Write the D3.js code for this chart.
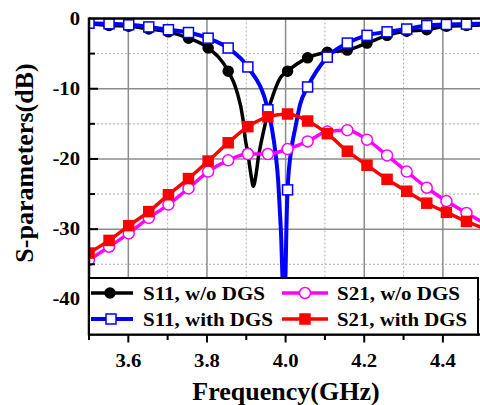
<!DOCTYPE html>
<html><head><meta charset="utf-8">
<script src="https://cdn.jsdelivr.net/npm/d3@7"></script>
<style>
body{margin:0;background:#fff}
svg{display:block}
text{font-family:"Liberation Serif","Times New Roman",serif;font-weight:bold;fill:#000}
</style>
</head><body>
<svg id="chart" width="480" height="405"></svg>
<script>
// Marker frequencies (GHz) shared by all four traces
const freq = [3.500, 3.551, 3.601, 3.652, 3.702, 3.753, 3.803, 3.854, 3.904, 3.955,
              4.005, 4.056, 4.106, 4.157, 4.207, 4.258, 4.308, 4.359, 4.409, 4.460, 4.510];

// S-parameters in dB at the marker frequencies
const s11Wo   = [-0.7, -1.0, -1.1, -1.5, -1.9, -2.8, -4.2, -7.5, -19.2, -13.3,
                 -7.5, -5.6, -4.8, -4.5, -3.5, -2.4, -1.8, -1.6, -1.1, -1.0, -0.9];
const s11With = [-0.67, -0.75, -0.9, -1.2, -1.6, -2.0, -2.8, -4.2, -6.9, -13.0,
                 -24.4, -9.75, -5.5, -3.5, -2.4, -1.9, -1.5, -1.0, -0.85, -0.8, -0.7];
const s21Wo   = [-34.4, -32.5, -30.6, -28.4, -26.5, -24.2, -21.8, -20.2, -19.3, -19.3,
                 -18.6, -17.5, -16.1, -15.9, -17.25, -19.5, -21.8, -24.1, -26.0, -27.7, -29.3];
const s21With = [-33.4, -31.6, -29.5, -27.5, -25.1, -22.8, -20.3, -17.7, -15.4, -14.0,
                 -13.6, -14.6, -16.4, -18.9, -20.9, -22.9, -24.6, -26.3, -27.6, -28.9, -30.0];

// Extra trace samples around the two S11 resonances
const s11WoDipF    = [3.875, 3.892, 3.897, 3.912, 3.918, 3.924, 3.931, 3.945, 3.970, 3.985];
const s11WoDipDb   = [-10.2, -14.5, -17.0, -22.3, -23.9, -22.5, -19.7, -15.8, -10.6, -8.6];
const s11WithDipF  = [3.965, 3.975, 3.981, 3.985, 3.989, 3.992, 3.995, 3.998, 4.000, 4.002, 4.015, 4.025, 4.037];
const s11WithDipDb = [-15.6, -19.5, -23.0, -27.0, -31.5, -37.0, -42.0, -40.0, -36.0, -30.0, -18.5, -15.5, -12.2];

// Axis ticks
const xMajor = [3.6, 3.8, 4.0, 4.2, 4.4];
const xMinor = [3.5, 3.7, 3.9, 4.1, 4.3, 4.5];
const yMajor = [0, -10, -20, -30, -40];
const yMinor = [-5, -15, -25, -35];
const xTickLabels = ["3.6", "3.8", "4.0", "4.2", "4.4"];
const yTickLabels = ["0", "-10", "-20", "-30", "-40"];

const series = [
  {name: "S11, w/o DGS",  values: s11Wo,   dipF: s11WoDipF,   dipDb: s11WoDipDb,   color: "#000000", marker: "circle", filled: true,  width: 3.5},
  {name: "S11, with DGS", values: s11With, dipF: s11WithDipF, dipDb: s11WithDipDb, color: "#0000ff", marker: "square", filled: false, width: 4},
  {name: "S21, w/o DGS",  values: s21Wo,   dipF: [], dipDb: [], color: "#ff00ff", marker: "circle", filled: false, width: 3.5},
  {name: "S21, with DGS", values: s21With, dipF: [], dipDb: [], color: "#ff0000", marker: "square", filled: true,  width: 3.5}
];

const svg = d3.select("#chart");
const L = 89, R = 482.2, T = 18.5, B = 334.5;
const x = d3.scaleLinear().domain([3.5, 4.5]).range([L, R]);
const y = d3.scaleLinear().domain([-45, 0]).range([B, T]);

svg.append("defs").append("clipPath").attr("id", "plotClip")
  .append("rect").attr("x", L).attr("y", T).attr("width", R - L).attr("height", B - T);

// grid
const grid = svg.append("g");
grid.selectAll(".gxm").data(xMinor).join("line")
  .attr("x1", d => x(d)).attr("x2", d => x(d)).attr("y1", T).attr("y2", B)
  .attr("stroke", "#b0b0b0").attr("stroke-width", 1).attr("stroke-dasharray", "2,2");
grid.selectAll(".gym").data(yMinor).join("line")
  .attr("y1", d => y(d)).attr("y2", d => y(d)).attr("x1", L).attr("x2", R)
  .attr("stroke", "#b0b0b0").attr("stroke-width", 1).attr("stroke-dasharray", "2,2");
grid.selectAll(".gxM").data(xMajor).join("line")
  .attr("x1", d => x(d)).attr("x2", d => x(d)).attr("y1", T).attr("y2", B)
  .attr("stroke", "#8c8c8c").attr("stroke-width", 1.5);
grid.selectAll(".gyM").data(yMajor.filter(d => d !== 0)).join("line")
  .attr("y1", d => y(d)).attr("y2", d => y(d)).attr("x1", L).attr("x2", R)
  .attr("stroke", "#8c8c8c").attr("stroke-width", 1.5);

// traces
const line = d3.line().x(d => x(d[0])).y(d => y(d[1])).curve(d3.curveMonotoneX);
const plot = svg.append("g").attr("clip-path", "url(#plotClip)");

function drawMarker(g, s, cx, cy) {
  if (s.marker === "circle") {
    g.append("circle").attr("cx", cx).attr("cy", cy).attr("r", s.filled ? 5 : 5.5)
      .attr("fill", s.filled ? s.color : "#fff").attr("stroke", s.color).attr("stroke-width", 1.5);
  } else {
    const h = 5;
    g.append("rect").attr("x", cx - h).attr("y", cy - h).attr("width", 2 * h).attr("height", 2 * h)
      .attr("fill", s.filled ? s.color : "#fff").attr("stroke", s.color).attr("stroke-width", 1.5);
  }
}

series.forEach(s => {
  const pts = freq.map((f, i) => [f, s.values[i]])
    .concat(s.dipF.map((f, i) => [f, s.dipDb[i]]))
    .sort((a, b) => a[0] - b[0]);
  const g = plot.append("g");
  g.append("path").datum(pts).attr("d", line)
    .attr("fill", "none").attr("stroke", s.color).attr("stroke-width", s.width)
    .attr("stroke-linejoin", "round");
  freq.forEach((f, i) => drawMarker(g, s, x(f), y(s.values[i])));
});

// frame and ticks
const ax = svg.append("g").attr("stroke", "#000");
ax.append("line").attr("x1", L).attr("x2", R).attr("y1", T).attr("y2", T).attr("stroke-width", 2.5);
ax.append("line").attr("x1", L).attr("x2", L).attr("y1", T - 1).attr("y2", B + 1).attr("stroke-width", 2.5);

// legend box (drawn over the traces)
const lg = svg.append("g");
lg.append("rect").attr("x", L).attr("y", 278).attr("width", 478 - L).attr("height", B - 278)
  .attr("fill", "#fff").attr("stroke", "#000").attr("stroke-width", 2);
const legendPos = [
  {lx1: 91, lx2: 133, mx: 110, tx: 143, ly: 293, tb: 300, tw: 122},
  {lx1: 91, lx2: 133, mx: 111, tx: 143, ly: 319, tb: 325.5, tw: 130},
  {lx1: 282, lx2: 328, mx: 305, tx: 337, ly: 293, tb: 300, tw: 123},
  {lx1: 282, lx2: 328, mx: 305, tx: 337, ly: 319, tb: 325.5, tw: 130}
];
series.forEach((s, i) => {
  const p = legendPos[i];
  lg.append("line").attr("x1", p.lx1).attr("x2", p.lx2).attr("y1", p.ly).attr("y2", p.ly)
    .attr("stroke", s.color).attr("stroke-width", s.width);
  drawMarker(lg, s, p.mx, p.ly);
  lg.append("text").attr("x", p.tx).attr("y", p.tb).attr("font-size", 18)
    .attr("textLength", p.tw).attr("lengthAdjust", "spacingAndGlyphs").text(s.name);
});

// bottom axis line over legend border
ax.append("line").attr("x1", L - 1).attr("x2", R).attr("y1", B).attr("y2", B).attr("stroke-width", 2.5);
ax.selectAll(".txM").data(xMajor).join("line")
  .attr("x1", d => x(d)).attr("x2", d => x(d)).attr("y1", B).attr("y2", B + 8).attr("stroke-width", 2);
ax.selectAll(".txm").data(xMinor).join("line")
  .attr("x1", d => x(d)).attr("x2", d => x(d)).attr("y1", B).attr("y2", B + 5.5).attr("stroke-width", 2);
ax.selectAll(".tyM").data(yMajor.filter(d => d !== 0)).join("line")
  .attr("x1", L).attr("x2", L + 9).attr("y1", d => y(d)).attr("y2", d => y(d)).attr("stroke-width", 2);
ax.selectAll(".tym").data(yMinor).join("line")
  .attr("x1", L).attr("x2", L + 6).attr("y1", d => y(d)).attr("y2", d => y(d)).attr("stroke-width", 2);

// tick labels
svg.selectAll(".xl").data(xMajor).join("text")
  .attr("transform", d => `translate(${x(d)},367) scale(1.15,1)`)
  .attr("text-anchor", "middle").attr("font-size", 18)
  .text((d, i) => xTickLabels[i]);
svg.selectAll(".yl").data(yMajor).join("text")
  .attr("transform", d => `translate(80,${y(d) + 6}) scale(1.15,1)`)
  .attr("text-anchor", "end").attr("font-size", 18)
  .text((d, i) => yTickLabels[i]);

// axis titles
svg.append("text").attr("x", 286).attr("y", 400).attr("text-anchor", "middle")
  .attr("font-size", 26).text("Frequency(GHz)");
svg.append("text").attr("transform", "translate(33,163) rotate(-90)").attr("text-anchor", "middle")
  .attr("font-size", 26).text("S-parameters(dB)");
</script>
</body></html>
